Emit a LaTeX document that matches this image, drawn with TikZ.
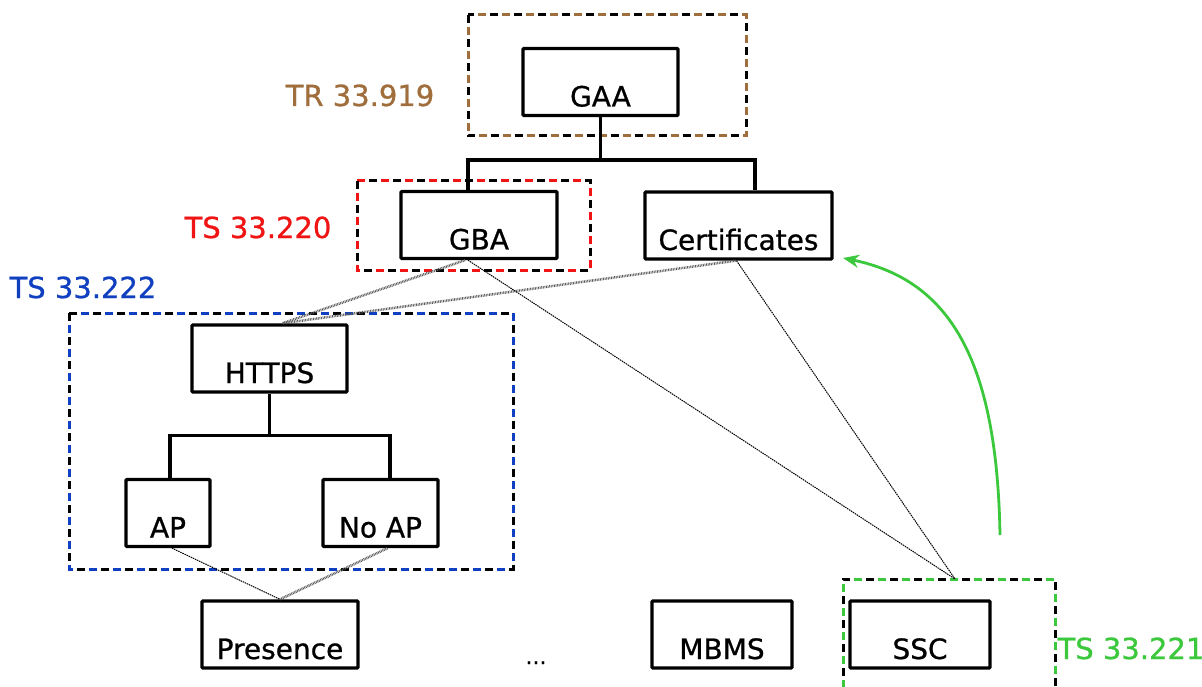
\documentclass[tikz,border=0pt]{standalone}
\usepackage{fontspec}
\setmainfont{DejaVu Sans}[FakeBold=0.8]
\usetikzlibrary{arrows.meta}
\definecolor{cbrown}{RGB}{160,110,60}
\definecolor{cred}{RGB}{240,20,20}
\definecolor{cblue}{RGB}{16,64,192}
\definecolor{cgreen}{RGB}{60,200,60}
\tikzset{
  bx/.style={draw, line width=3.4pt, rounded corners=1pt, inner sep=0pt, minimum height=67pt, text height=58pt, text depth=9pt, font=\fontsize{28}{30}\selectfont},
  tree/.style={line width=3.4pt},
  lbl/.style={anchor=base, inner sep=0pt, font=\fontsize{29}{32}\selectfont},
  thin/.style={line width=1pt, dash pattern=on 1.5pt off 0.8pt},
  hatch/.style={line width=2.5pt, black!65, dash pattern=on 0.8pt off 0.8pt},
  grp/.style={line width=3pt, dash pattern=on 8pt off 4pt},
  grpk/.style={line width=3pt, black, dash pattern=on 8pt off 16pt},
}
\begin{document}
\begin{tikzpicture}[x=1pt,y=-1pt]
\useasboundingbox (0,0) rectangle (1202,687);
% group frames
\draw[grp, cbrown] (468,15) rectangle (746,136);
\draw[grpk] (468,15) rectangle (746,136);
\draw[grp, cred] (357,181) rectangle (590,270);
\draw[grpk] (357,181) rectangle (590,270);
\draw[grp, cblue] (69,313) rectangle (513,569);
\draw[grpk] (69,313) rectangle (513,569);
\draw[grp, cgreen] (843,700) |- (1055,579) -- (1055,700);
\draw[grpk] (843,700) |- (1055,579) -- (1055,700);
\coordinate (grn) at (955,579);
% boxes
\node[bx, minimum width=155pt] (gaa) at (600.5,82) {GAA};
\node[bx, minimum width=156pt] (gba) at (479,225) {GBA};
\node[bx, minimum width=187pt] (cert) at (738.5,225.5) {Certificates};
\node[bx, minimum width=155pt] (https) at (269.5,358.5) {HTTPS};
\node[bx, minimum width=84pt] (ap) at (168,513) {AP};
\node[bx, minimum width=115pt] (noap) at (380.5,513) {No AP};
\node[bx, minimum width=156pt] (pres) at (280,634.5) {Presence};
\node[bx, minimum width=140pt] (mbms) at (722,634.5) {MBMS};
\node[bx, minimum width=140pt] (ssc) at (920,634.5) {SSC};
\node[anchor=base, inner sep=0pt, font=\fontsize{22}{24}\selectfont] (dots) at (536,664) {...};
% labels
\node[lbl, text=cbrown] (l919) at (360,106) {TR 33.919};
\node[lbl, text=cred] (l220) at (258,238) {TS 33.220};
\node[lbl, text=cblue] (l222) at (83,298) {TS 33.222};
\node[lbl, text=cgreen] (l221) at (1131,659) {TS 33.221};
% trees
\draw[tree] (gaa.south) -- ++(0,43) coordinate (t1);
\draw[tree] ([xshift=-11pt]gba.north) |- (t1) -| ([xshift=16.5pt]cert.north);
\draw[tree] (https.south) -- ++(0,42) coordinate (t2);
\draw[tree] ([xshift=2pt]ap.north) |- (t2) -| ([xshift=9.5pt]noap.north);
% dotted relations
\draw[hatch] ([xshift=-14pt]gba.south) -- ([xshift=13pt]https.north);
\draw[hatch] ([xshift=-3pt]cert.south) -- ([xshift=13pt]https.north);
\draw[thin] ([xshift=-11pt]gba.south) -- (grn);
\draw[thin] ([xshift=-2pt]cert.south) -- (grn);
\draw[thin] ([xshift=4pt]ap.south) -- (pres.north);
\draw[hatch] ([xshift=7pt]noap.south) -- (pres.north);
% green arrow
\coordinate (gstart) at (1000,535);
\coordinate (gend) at (843,258);
\draw[line width=2.8pt, cgreen, -{Stealth[length=16pt,width=13pt]}] (gstart) .. controls (997,360) and (950,280) .. (gend);
\end{tikzpicture}
\end{document}
